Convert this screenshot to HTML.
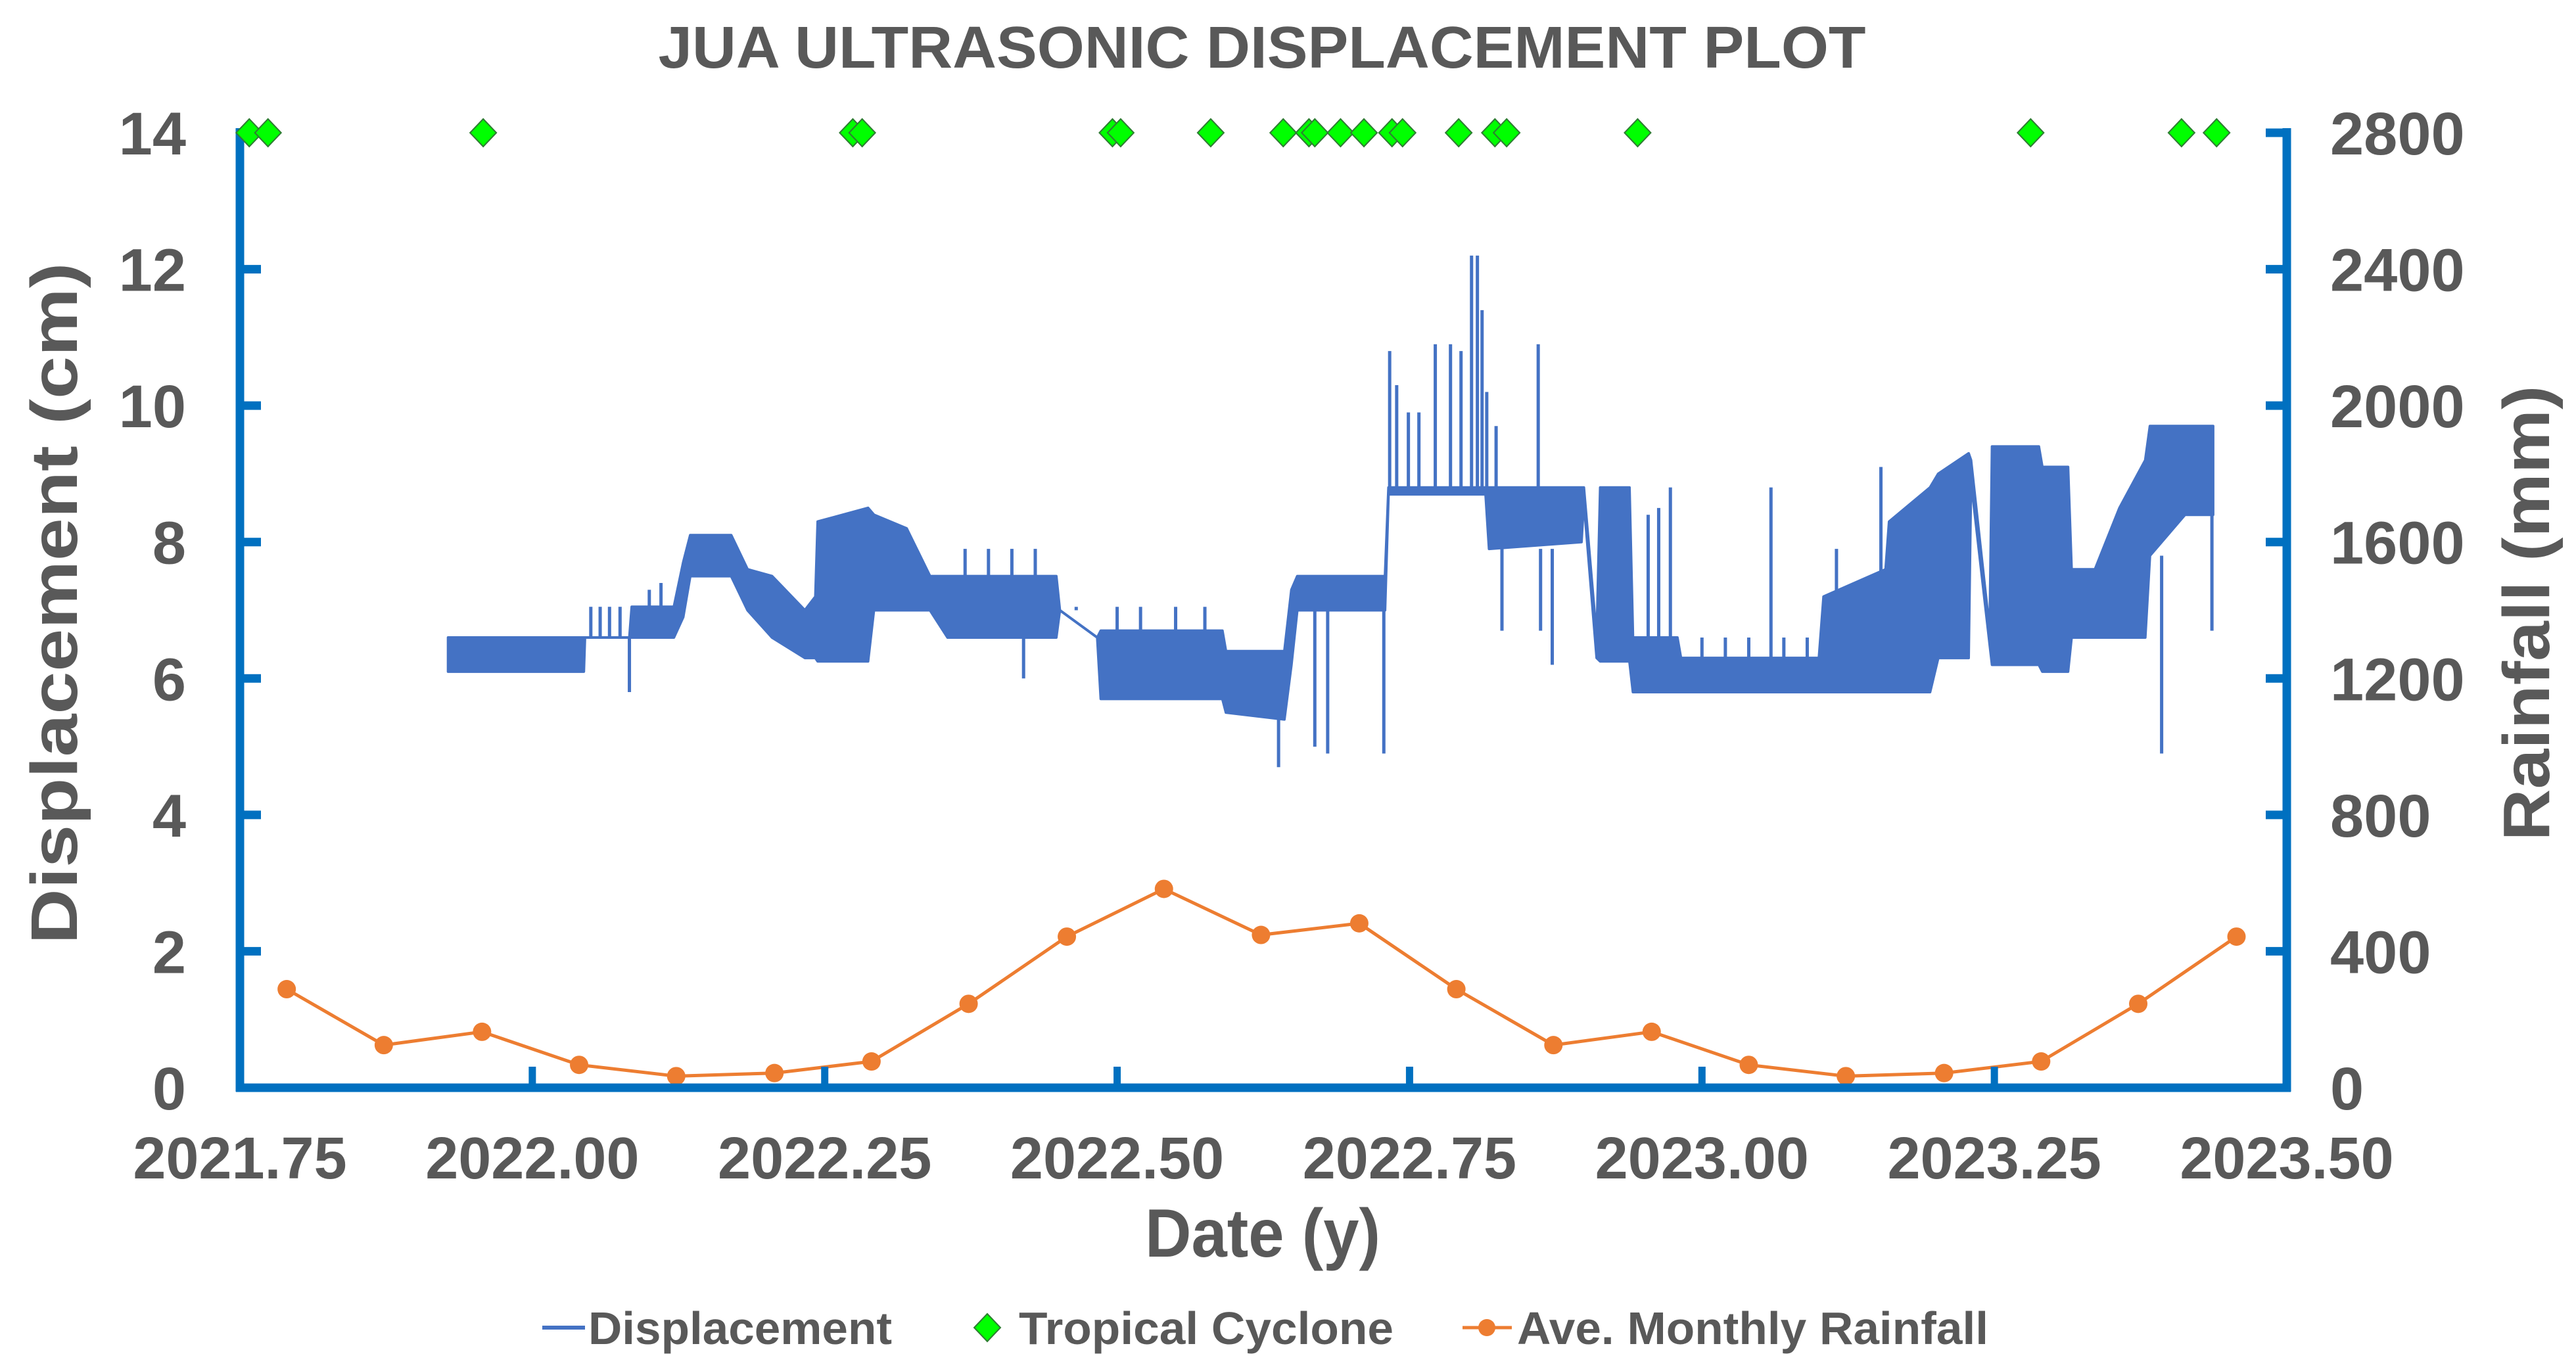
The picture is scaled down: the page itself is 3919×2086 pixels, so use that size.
<!DOCTYPE html>
<html>
<head>
<meta charset="utf-8">
<style>
  html,body{margin:0;padding:0;background:#fff;}
  svg{display:block;}
  text{font-family:"Liberation Sans",Arial,sans-serif;font-weight:bold;fill:#595959;}
</style>
</head>
<body>
<svg id="chart" width="3919" height="2086" viewBox="0 0 3919 2086" xmlns="http://www.w3.org/2000/svg">
  <rect x="0" y="0" width="3919" height="2086" fill="#ffffff"/>
  <text x="1920" y="103" text-anchor="middle" font-size="90" textLength="1837" lengthAdjust="spacingAndGlyphs">JUA ULTRASONIC DISPLACEMENT PLOT</text>
  <g id="plot"></g>
  <g id="axes"></g>
  <text x="1921" y="1912" text-anchor="middle" font-size="104" textLength="358" lengthAdjust="spacingAndGlyphs">Date (y)</text>
  <text transform="translate(117,918) rotate(-90)" text-anchor="middle" font-size="100" textLength="1037" lengthAdjust="spacingAndGlyphs">Displacement (cm)</text>
  <text transform="translate(3878,933) rotate(-90)" text-anchor="middle" font-size="100" textLength="693" lengthAdjust="spacingAndGlyphs">Rainfall (mm)</text>
  <g id="legend">
    <g>
      <line x1="825" y1="2020" x2="890" y2="2020" stroke="#4472C4" stroke-width="6"/>
      <text x="895" y="2045" font-size="70" textLength="462" lengthAdjust="spacingAndGlyphs">Displacement</text>
    </g>
    <g>
      <polygon points="1502,1999 1522,2020 1502,2041 1482,2020" fill="#00FF00" stroke="#2E7D32" stroke-width="2"/>
      <text x="1550" y="2045" font-size="70" textLength="570" lengthAdjust="spacingAndGlyphs">Tropical Cyclone</text>
    </g>
    <g>
      <line x1="2225" y1="2020" x2="2300" y2="2020" stroke="#ED7D31" stroke-width="5"/>
      <circle cx="2262" cy="2020" r="13" fill="#ED7D31"/>
      <text x="2308" y="2045" font-size="70" textLength="717" lengthAdjust="spacingAndGlyphs">Ave. Monthly Rainfall</text>
    </g>
  </g>
</svg>
<script>
// ---- data ----
const xTicks = [2021.75, 2022.00, 2022.25, 2022.50, 2022.75, 2023.00, 2023.25, 2023.50];
const xTickLabels = ["2021.75","2022.00","2022.25","2022.50","2022.75","2023.00","2023.25","2023.50"];
const yLeftTicks = [0, 2, 4, 6, 8, 10, 12, 14];
const yRightTicks = [0, 400, 800, 1200, 1600, 2000, 2400, 2800];

const rainDates = [2021.79,2021.873,2021.957,2022.04,2022.123,2022.207,2022.29,2022.373,2022.457,2022.54,2022.623,2022.707,2022.79,2022.873,2022.957,2023.04,2023.123,2023.207,2023.29,2023.373,2023.457];
const rainVals = [289,125,164,67,34,43,77,246,443,583,448,482,289,125,164,67,34,43,77,246,443];

const cycloneDates = [2021.758,2021.774,2021.958,2022.274,2022.282,2022.496,2022.503,2022.580,2022.642,2022.664,2022.669,2022.691,2022.711,2022.735,2022.744,2022.792,2022.823,2022.833,2022.945,2023.281,2023.410,2023.440];
const cycloneVals = [14,14,14,14,14,14,14,14,14,14,14,14,14,14,14,14,14,14,14,14,14,14];

// displacement envelope (dense sensor record summarised as high/low band)
const dispDates = [2021.928,2022.044,2022.045,2022.083,2022.085,2022.121,2022.129,2022.135,2022.170,2022.184,2022.205,2022.233,2022.242,2022.244,2022.287,2022.292,2022.320,2022.340,2022.355,2022.448,2022.451,2022.483,2022.486,2022.590,2022.593,2022.643,2022.649,2022.654,2022.729,2022.732,2022.815,2022.818,2022.897,2022.899,2022.910,2022.913,2022.938,2022.941,2022.979,2022.982,2023.100,2023.104,2023.157,2023.160,2023.195,2023.202,2023.228,2023.230,2023.246,2023.248,2023.288,2023.291,2023.313,2023.316,2023.336,2023.357,2023.379,2023.383,2023.413,2023.437];
const dispHi = [6.6,6.6,6.6,6.6,7.05,7.05,7.7,8.1,8.1,7.6,7.5,7.0,7.2,8.3,8.5,8.4,8.2,7.5,7.5,7.5,7.0,6.6,6.7,6.7,6.4,6.4,7.3,7.5,7.5,8.8,8.8,8.8,8.8,8.8,6.6,8.8,8.8,6.6,6.6,6.3,6.3,7.2,7.6,8.3,8.8,9.0,9.3,9.2,6.7,9.4,9.4,9.1,9.1,7.6,7.6,8.5,9.2,9.7,9.7,9.7];
const dispLo = [6.1,6.1,6.6,6.6,6.6,6.6,6.9,7.5,7.5,7.0,6.6,6.3,6.3,6.25,6.25,7.0,7.0,7.0,6.6,6.6,7.0,6.6,5.7,5.7,5.5,5.4,6.2,7.0,7.0,8.7,8.7,7.9,8.0,8.6,6.3,6.25,6.25,5.8,5.8,5.8,5.8,5.8,5.8,5.8,5.8,6.3,6.3,8.9,6.5,6.2,6.2,6.1,6.1,6.6,6.6,6.6,6.6,7.8,8.4,8.4];
const spikeDates = [2022.083,2022.638,2022.669,2022.680,2022.728,2022.733,2022.739,2022.749,2022.758,2022.772,2022.785,2022.794,2022.803,2022.808,2022.812,2022.816,2022.824,2022.860,2022.829,2022.862,2022.872,2022.954,2022.963,2022.973,2023.059,2023.115,2023.153,2023.393,2023.436,
  2022.050,2022.058,2022.066,2022.075,2022.370,2022.390,2022.410,2022.430,2022.420,2022.500,2022.520,2022.550,2022.575,2023.000,2023.020,2023.040,2023.070,2023.090,2022.110,2022.100,2022.465];
const spikeVals = [5.8,4.7,5.0,4.9,4.9,10.8,10.3,9.9,9.9,10.9,10.9,10.8,12.2,12.2,11.4,10.2,9.7,10.9,6.7,6.7,6.2,8.4,8.5,8.8,8.8,7.9,9.1,4.9,6.7,
  7.05,7.05,7.05,7.05,7.9,7.9,7.9,7.9,6.0,7.05,7.05,7.05,7.05,6.6,6.6,6.6,6.6,6.6,7.4,7.3,7.05];

// ---- scales ----
const X0 = 365, X1 = 3479, Y0 = 1655, Y1 = 202;
function xs(t){ return X0 + (t - 2021.75) / 1.75 * (X1 - X0); }
function yl(v){ return Y0 - v / 14 * (Y0 - Y1); }
function yr(v){ return Y0 - v / 2800 * (Y0 - Y1); }

const NS = "http://www.w3.org/2000/svg";
function mk(tag, attrs, parent){
  const el = document.createElementNS(NS, tag);
  for (const k in attrs) el.setAttribute(k, attrs[k]);
  parent.appendChild(el);
  return el;
}
const plot = document.getElementById('plot');
const axes = document.getElementById('axes');

// displacement band
let pts = [];
for (let i = 0; i < dispDates.length; i++) pts.push(xs(dispDates[i]).toFixed(1) + ',' + yl(dispHi[i]).toFixed(1));
for (let i = dispDates.length - 1; i >= 0; i--) pts.push(xs(dispDates[i]).toFixed(1) + ',' + yl(dispLo[i]).toFixed(1));
const band = mk('polygon', {points: pts.join(' '), fill: '#4472C4', stroke: '#4472C4', 'stroke-width': 4, 'stroke-linejoin': 'round'}, plot);



// spikes
for (let i = 0; i < spikeDates.length; i++) {
  let j = 0;
  while (j < dispDates.length - 1 && dispDates[j + 1] < spikeDates[i]) j++;
  const base = spikeVals[i] > dispHi[j] ? dispHi[j] : dispLo[j];
  const ln = mk('line', {x1: xs(spikeDates[i]), x2: xs(spikeDates[i]), y1: yl(base), y2: yl(spikeVals[i]), stroke: '#4472C4', 'stroke-width': 5}, plot);
  
  
}

// rainfall
const rp = rainDates.map((d, i) => xs(d).toFixed(1) + ',' + yr(rainVals[i]).toFixed(1)).join(' ');
const rl = mk('polyline', {points: rp, fill: 'none', stroke: '#ED7D31', 'stroke-width': 5}, plot);


for (let i = 0; i < rainDates.length; i++) {
  const c = mk('circle', {cx: xs(rainDates[i]), cy: yr(rainVals[i]), r: 14, fill: '#ED7D31'}, plot);
  
  
}

// axes
const AX = '#0070C0';
let a;
a = mk('line', {x1: X0, y1: 195, x2: X0, y2: Y0 + 6, stroke: AX, 'stroke-width': 13}, axes);
 
a = mk('line', {x1: X1, y1: 195, x2: X1, y2: Y0 + 6, stroke: AX, 'stroke-width': 13}, axes);
 
a = mk('line', {x1: X0 - 6, y1: Y0, x2: X1 + 6, y2: Y0, stroke: AX, 'stroke-width': 13}, axes);
 

for (let i = 0; i < xTicks.length; i++) {
  const x = xs(xTicks[i]);
  const t = mk('line', {x1: x, x2: x, y1: Y0, y2: Y0 - 32, stroke: AX, 'stroke-width': 11}, axes);
   
  const lb = mk('text', {x: x, y: 1793, 'text-anchor': 'middle', 'font-size': 90}, axes);
  lb.textContent = xTickLabels[i];
   
}
for (let i = 0; i < yLeftTicks.length; i++) {
  const y = yl(yLeftTicks[i]);
  const t = mk('line', {x1: X0, x2: X0 + 32, y1: y, y2: y, stroke: AX, 'stroke-width': 13}, axes);
   
  const lb = mk('text', {x: 283, y: y + 33, 'text-anchor': 'end', 'font-size': 92}, axes);
  lb.textContent = String(yLeftTicks[i]);
   
}
for (let i = 0; i < yRightTicks.length; i++) {
  const y = yr(yRightTicks[i]);
  const t = mk('line', {x1: X1, x2: X1 - 32, y1: y, y2: y, stroke: AX, 'stroke-width': 13}, axes);
   
  const lb = mk('text', {x: 3545, y: y + 33, 'text-anchor': 'start', 'font-size': 92}, axes);
  lb.textContent = String(yRightTicks[i]);
   
}

// cyclones (drawn last, on top)
for (let i = 0; i < cycloneDates.length; i++) {
  const cx = xs(cycloneDates[i]), cy = yl(cycloneVals[i]);
  const d = mk('polygon', {points: `${cx},${cy-21} ${cx+20},${cy} ${cx},${cy+21} ${cx-20},${cy}`, fill: '#00FF00', stroke: '#2E7D32', 'stroke-width': 2}, axes);
  
  
}
</script>
</body>
</html>
